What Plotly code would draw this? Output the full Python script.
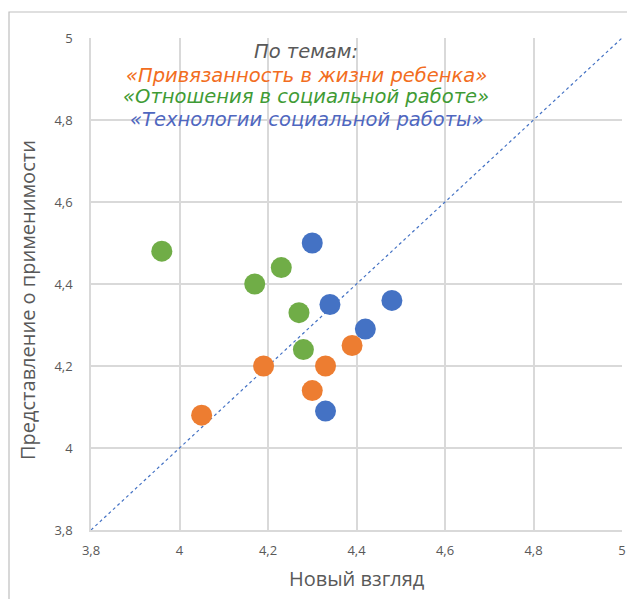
import plotly.graph_objects as go

# Data: (Новый взгляд, Представление о применимости)
orange_x = [4.05, 4.19, 4.30, 4.33, 4.39]
orange_y = [4.08, 4.20, 4.14, 4.20, 4.25]
green_x = [3.96, 4.17, 4.23, 4.27, 4.28]
green_y = [4.48, 4.40, 4.44, 4.33, 4.24]
blue_x = [4.30, 4.34, 4.48, 4.42, 4.33]
blue_y = [4.50, 4.35, 4.36, 4.29, 4.09]
diag = [3.8, 5.0]
tick_vals = [3.8, 4.0, 4.2, 4.4, 4.6, 4.8, 5.0]

C_OR = "#ED7D31"
C_GR = "#70AD47"
C_BL = "#4472C4"
FONT = "Open Sans"
GREY = "#595959"

fig = go.Figure()
fig.add_trace(go.Scatter(x=diag, y=diag, mode="lines",
                         line=dict(color=C_BL, width=1.2, dash="dot"),
                         hoverinfo="skip", showlegend=False))
for xs, ys, c in [(orange_x, orange_y, C_OR), (green_x, green_y, C_GR), (blue_x, blue_y, C_BL)]:
    fig.add_trace(go.Scatter(x=xs, y=ys, mode="markers",
                             marker=dict(size=21, color=c, line=dict(width=0)),
                             showlegend=False))

axis_common = dict(range=[3.8, 5.0], tickvals=tick_vals, showgrid=True,
                   gridcolor="#D9D9D9", gridwidth=1.5, zeroline=False,
                   showline=True, linecolor="#D9D9D9", linewidth=1.5,
                   ticks="", automargin=False,
                   tickfont=dict(family=FONT, size=13, color=GREY))

fig.update_xaxes(**axis_common, ticklabelstandoff=8)
fig.update_yaxes(**axis_common, ticklabelstandoff=14)

L, R, T, B = 91, 5, 38, 69
W, H = 627, 599
pw, ph = W - L - R, H - T - B

def px(xp):
    return (xp - L) / pw

def py(yp):
    return (H - B - yp) / ph

title_lines = [
    ("По темам:", GREY, 52),
    ("«Привязанность в жизни ребенка»", "#F26D21", 75),
    ("«Отношения в социальной работе»", "#3F9B35", 97),
    ("«Технологии социальной работы»", "#4F67C0", 119),
]
annotations = []
for txt, col, yp in title_lines:
    annotations.append(dict(text=f"<i>{txt}</i>", x=px(306), y=py(yp), xref="paper", yref="paper",
                            xanchor="center", yanchor="middle", showarrow=False, height=23,
                            font=dict(family="DejaVu Sans", size=19.5, color=col)))
annotations.append(dict(text="Новый взгляд", x=px(357), y=py(578), xref="paper", yref="paper",
                        xanchor="center", yanchor="middle", showarrow=False,
                        font=dict(family=FONT, size=20, color=GREY)))
annotations.append(dict(text="Представление о применимости", x=px(27), y=py(300), xref="paper", yref="paper",
                        xanchor="center", yanchor="middle", showarrow=False, textangle=-90,
                        font=dict(family=FONT, size=20, color=GREY)))

fig.update_layout(
    width=W, height=H,
    margin=dict(l=L, r=R, t=T, b=B),
    paper_bgcolor="white", plot_bgcolor="white",
    separators=", ",
    annotations=annotations,
    shapes=[dict(type="rect", xref="paper", yref="paper",
                 x0=px(9), x1=px(700), y0=py(700), y1=py(12),
                 line=dict(color="#BFBFBF", width=1.2), layer="below")],
)

fig.write_html("out.html", config={"displayModeBar": False},
               post_script="document.body.style.margin='0';")
